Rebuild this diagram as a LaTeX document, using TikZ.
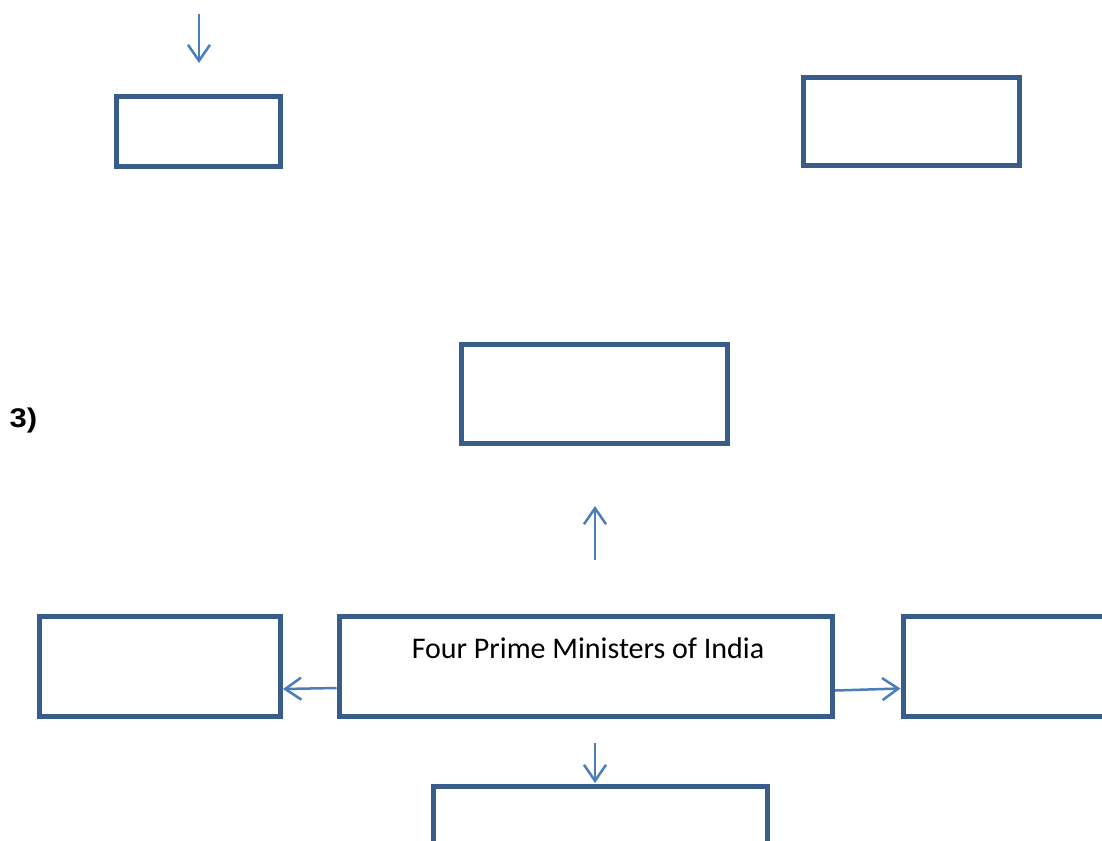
\documentclass[tikz,border=0pt]{standalone}
\usepackage{fontspec}
\setmainfont{Carlito}
\newfontfamily\arialfont{Liberation Sans}
\usetikzlibrary{arrows.meta}
\definecolor{boxblue}{HTML}{385D8A}
\definecolor{arrblue}{HTML}{4A7EBB}
\tikzset{
  blank/.style={draw=boxblue, line width=5pt, fill=none, inner sep=0pt},
  arr/.style={draw=arrblue, line width=2.5pt, -{Straight Barb[length=16pt,width=22pt,line width=2.5pt]}},
}
\begin{document}
\begin{tikzpicture}[x=1pt,y=-1pt]
\useasboundingbox (0,0) rectangle (1102,840);
\clip (0,0) rectangle (1102,840);
\node[blank, minimum width=164pt, minimum height=70.5pt] (tl) at (198.5,131.3) {};
\node[blank, minimum width=216pt, minimum height=88pt] (tr) at (911.5,121.5) {};
\node[blank, minimum width=266pt, minimum height=99pt] (mid) at (594.5,394) {};
\node[blank, minimum width=493.5pt, minimum height=99.5pt] (cen) at (585.75,666.25) {};
\node[blank, minimum width=241.5pt, minimum height=99.5pt] (lft) at (159.75,666.25) {};
\node[blank, minimum width=260pt, minimum height=99.5pt] (rgt) at (1033,666.25) {};
\node[blank, minimum width=334pt, minimum height=100pt] (bot) at (600,836.5) {};
\node[font=\fontsize{30}{34}\selectfont, anchor=base, inner sep=0pt] (title) at (588,658) {Four Prime Ministers of India};
\node[font=\arialfont\bfseries\fontsize{27}{31}\selectfont, anchor=base west, inner sep=0pt] (num) at (9.3,427) {\scalebox{1.15}[1]{3)}};
\coordinate (a1s) at (199,14);
\coordinate (a1e) at (199,63);
\coordinate (a2s) at (595,560);
\coordinate (a2e) at (595,506);
\coordinate (a3s) at (595,743);
\coordinate (a3e) at (595,783);
\draw[arr] (a1s) -- (a1e);
\draw[arr] (a2s) -- (a2e);
\draw[arr] (a3s) -- (a3e);
\draw[arr] (cen.west |- 0,688) -- (lft.east |- 0,689);
\draw[arr] (cen.east |- 0,690.5) -- (rgt.west |- 0,688.5);
\end{tikzpicture}
\end{document}
